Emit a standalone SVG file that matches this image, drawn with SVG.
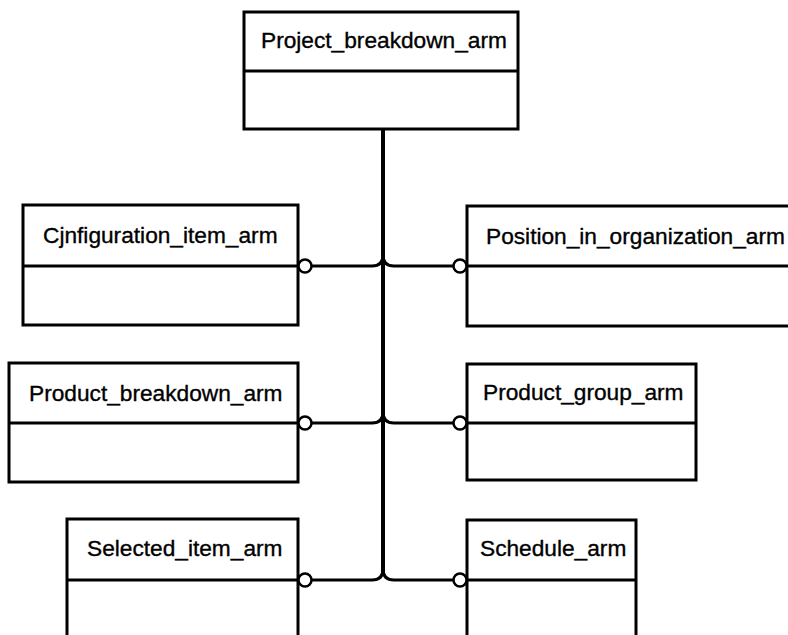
<svg xmlns="http://www.w3.org/2000/svg" width="788" height="635" viewBox="0 0 788 635">
<style>
.box{fill:#fff;stroke:#000;stroke-width:3}
.div{stroke:#000;stroke-width:3}
.lbl{font-family:"Liberation Sans",Arial,sans-serif;font-size:22.7px;fill:#000;stroke:#000;stroke-width:0.35}
.ln{fill:none;stroke:#000;stroke-width:3}
.trunk{fill:none;stroke:#000;stroke-width:4}
.circ{fill:#fff;stroke:#000;stroke-width:2.5}
</style>
<g id="connectors">
<path class="trunk" d="M383,129 V572"/>
<path class="ln" d="M305,266 H372 Q383,266 383,255 Q383,266 394,266 H460"/>
<path class="ln" d="M305,423 H372 Q383,423 383,412 Q383,423 394,423 H460"/>
<path class="ln" d="M305,580 H372 Q383,580 383,569 Q383,580 394,580 H460"/>
</g>
<g id="project_breakdown_arm">
<rect class="box" x="244" y="12" width="274" height="117"/>
<line class="div" x1="244" y1="71" x2="518" y2="71"/>
<text class="lbl" x="261" y="48">Project_breakdown_arm</text>
</g>
<g id="cjnfiguration_item_arm">
<rect class="box" x="23" y="205" width="275" height="120"/>
<line class="div" x1="23" y1="266" x2="298" y2="266"/>
<text class="lbl" x="43" y="243">Cjnfiguration_item_arm</text>
<circle class="circ" cx="305" cy="266" r="6.5"/>
</g>
<g id="position_in_organization_arm">
<rect class="box" x="467" y="206" width="330" height="120"/>
<line class="div" x1="467" y1="266" x2="797" y2="266"/>
<text class="lbl" x="486" y="244">Position_in_organization_arm</text>
<circle class="circ" cx="460" cy="266" r="6.5"/>
</g>
<g id="product_breakdown_arm">
<rect class="box" x="9" y="363" width="289" height="119"/>
<line class="div" x1="9" y1="423" x2="298" y2="423"/>
<text class="lbl" x="29" y="401">Product_breakdown_arm</text>
<circle class="circ" cx="305" cy="423" r="6.5"/>
</g>
<g id="product_group_arm">
<rect class="box" x="467" y="364" width="229" height="116"/>
<line class="div" x1="467" y1="423" x2="696" y2="423"/>
<text class="lbl" x="483" y="400">Product_group_arm</text>
<circle class="circ" cx="460" cy="423" r="6.5"/>
</g>
<g id="selected_item_arm">
<rect class="box" x="67" y="519" width="231" height="130"/>
<line class="div" x1="67" y1="580" x2="298" y2="580"/>
<text class="lbl" x="87" y="556">Selected_item_arm</text>
<circle class="circ" cx="305" cy="580" r="6.5"/>
</g>
<g id="schedule_arm">
<rect class="box" x="467" y="520" width="169" height="130"/>
<line class="div" x1="467" y1="580" x2="636" y2="580"/>
<text class="lbl" x="480" y="556">Schedule_arm</text>
<circle class="circ" cx="460" cy="580" r="6.5"/>
</g>
</svg>
